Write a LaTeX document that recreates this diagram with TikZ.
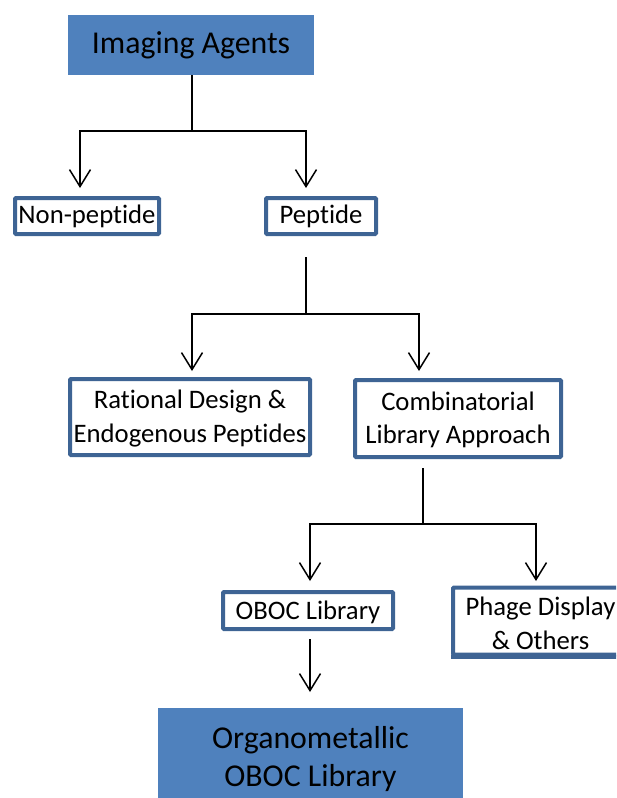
\documentclass[tikz,border=0pt]{standalone}
\usepackage{fontspec}
\setmainfont{Carlito}[Ligatures=NoCommon]
\usetikzlibrary{arrows.meta}
\definecolor{accfill}{HTML}{4F81BD}
\definecolor{accline}{HTML}{3E6494}
\tikzset{
  filledbox/.style={fill=accfill, draw=none, inner sep=0pt, align=center,
    font=\fontsize{31.8}{38}\selectfont},
  outlinebox/.style={draw=accline, line width=4pt, fill=white, inner sep=0pt,
    rounded corners=1pt, align=center, font=\fontsize{26.7}{33.5}\selectfont},
  conn/.style={line width=1.5pt, black},
  arr/.style={conn, -{Straight Barb[length=17pt,width=21pt,line width=1.5pt]}},
}
\begin{document}
\begin{tikzpicture}[x=1pt,y=-1pt]
\useasboundingbox (0,0) rectangle (616,798);
\clip (0,0) rectangle (616,798);
% nodes
\node[filledbox, minimum width=246pt, minimum height=60pt] (imaging) at (191,45) {Imaging Agents};
\node[outlinebox, minimum width=144pt, minimum height=36pt] (nonpep) at (87,216) {Non-peptide};
\node[outlinebox, minimum width=110pt, minimum height=36pt] (pep) at (321,216) {Peptide};
\node[outlinebox, minimum width=240pt, minimum height=76pt] (rational) at (190,417) {\raisebox{-2pt}[\height][\depth]{\begin{tabular}{@{}c@{}}Rational Design \&\\Endogenous Peptides\end{tabular}}};
\node[outlinebox, minimum width=206pt, minimum height=77pt] (comb) at (458,418.5) {\raisebox{-2pt}[\height][\depth]{\begin{tabular}{@{}c@{}}Combinatorial\\Library Approach\end{tabular}}};
\node[outlinebox, minimum width=170pt, minimum height=37pt] (oboc) at (308,610.5) {\raisebox{-2pt}[\height][\depth]{OBOC Library}};
\node[outlinebox, minimum width=175pt, minimum height=60pt] (phage) at (540.5,621) {\raisebox{-5pt}[\height][\depth]{\begin{tabular}{@{}c@{}}Phage Display\\\& Others\end{tabular}}};
\draw[draw=accline, line width=4pt] (phage.south west) -- (phage.south east);
\node[filledbox, minimum width=305pt, minimum height=102pt] (organo) at (310.5,759) {Organometallic\\OBOC Library};
% junction coordinates
\coordinate (j1) at (192,131);
\coordinate (a1) at (80,188);
\coordinate (a2) at (306,188);
\coordinate (s2) at (306,257);
\coordinate (j2) at (306,314);
\coordinate (a3) at (192,371);
\coordinate (a4) at (419,371);
\coordinate (s3) at (423,468);
\coordinate (j3) at (423,524);
\coordinate (a5) at (310,581);
\coordinate (a6) at (536,581);
\coordinate (s4) at (310,639);
\coordinate (a7) at (310,692);
% connectors
\draw[conn] (imaging.south -| j1) -- (j1);
\draw[arr] (j1) -| (a1);
\draw[arr] (j1) -| (a2);
\draw[conn] (s2) -- (j2);
\draw[arr] (j2) -| (a3);
\draw[arr] (j2) -| (a4);
\draw[conn] (s3) -- (j3);
\draw[arr] (j3) -| (a5);
\draw[arr] (j3) -| (a6);
\draw[arr] (s4) -- (a7);
\end{tikzpicture}
\end{document}
